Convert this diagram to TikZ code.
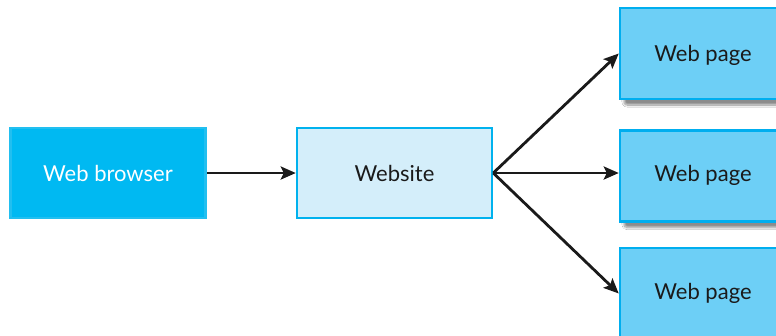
\documentclass[tikz,border=0pt]{standalone}
\usepackage{fontspec}
\setmainfont{Lato}
\usetikzlibrary{arrows.meta,shadows.blur}
\definecolor{browserfill}{HTML}{00B9F2}
\definecolor{browserline}{HTML}{22BFF0}
\definecolor{sitefill}{HTML}{D4EEFA}
\definecolor{siteline}{HTML}{00B2EE}
\definecolor{pagefill}{HTML}{6DCFF6}
\definecolor{pageline}{HTML}{00AEEF}
\definecolor{ink}{HTML}{1A1A1A}
\tikzset{
  labeltext/.style={font=\fontsize{22}{26}\selectfont, text=ink},
  box/.style={rectangle, line width=2.5pt, minimum width=195pt, minimum height=90pt,
    inner sep=0pt, labeltext},
  browserbox/.style={box, fill=browserfill, draw=browserline, text=white},
  sitebox/.style={box, fill=sitefill, draw=siteline},
  pagebox/.style={box, fill=pagefill, draw=pageline, minimum height=91pt,
    blur shadow={shadow xshift=4pt, shadow yshift=-6pt, shadow blur steps=12,
      shadow blur extra rounding=3pt, shadow opacity=45}},
  link/.style={line width=2.8pt, ink, -{Stealth[length=15pt,width=13pt,inset=3pt]}}
}
\begin{document}
\begin{tikzpicture}[x=1pt,y=-1pt]
  \useasboundingbox (0,0) rectangle (776,335);
  \clip (0,0) rectangle (776,335);
  \fill[white] (0,0) rectangle (776,335);

  \node[browserbox] (browser) at (108,173) {Web browser};
  \node[sitebox] (site) at (394.5,173) {Website};
  \node[pagebox] (page1) at (717.5,53.5) {};
  \node[pagebox] (page2) at (717.5,176) {};
  \node[pagebox] (page3) at (717.5,293.5) {};
  \node[labeltext] (t1) at (703,55) {Web page};
  \node[labeltext] (t2) at (703,175) {Web page};
  \node[labeltext] (t3) at (703,293) {Web page};

  \draw[link] (browser.east) -- (site.west);
  \draw[link] (site.east) -- (page1.west);
  \draw[link] (site.east) -- (site.east -| page2.west);
  \draw[link] (site.east) -- (page3.west);
\end{tikzpicture}
\end{document}
